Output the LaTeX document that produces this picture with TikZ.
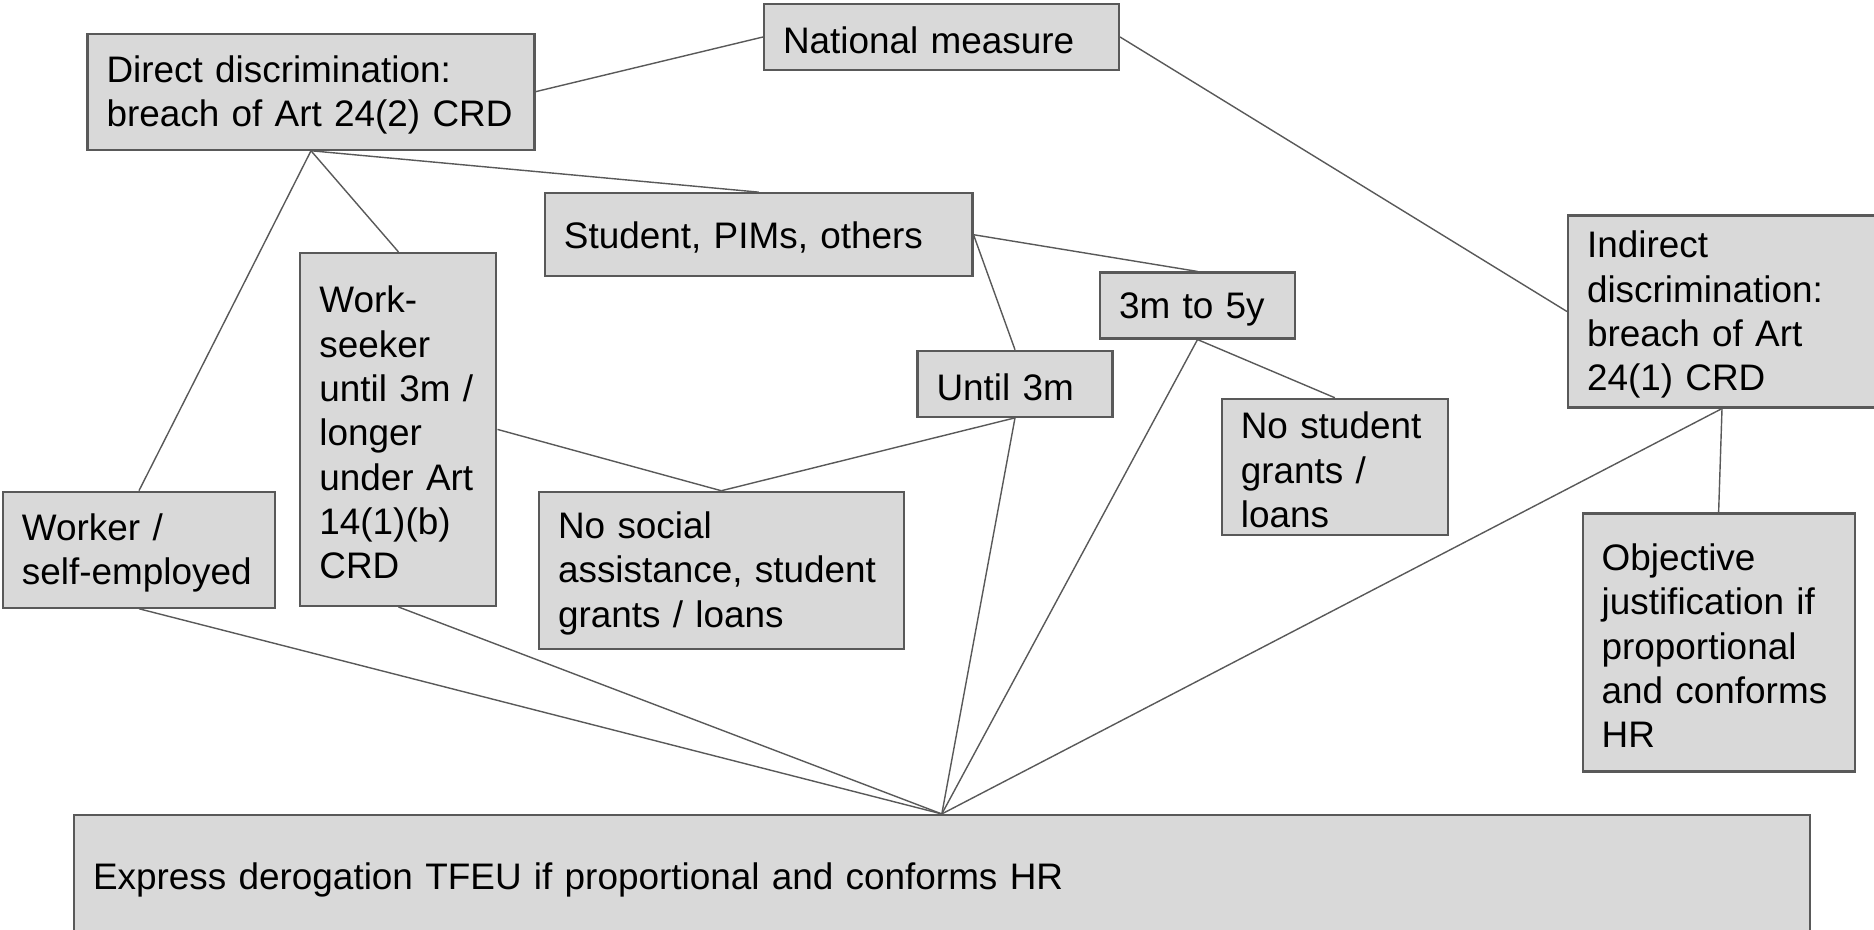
\documentclass[tikz,border=0pt]{standalone}
\usepackage{fontspec}
\setmainfont{Liberation Sans}
\usepackage{xcolor}
\definecolor{boxfill}{RGB}{217, 217, 217}
\definecolor{boxedge}{RGB}{89, 89, 89}
\definecolor{linkgray}{RGB}{89, 89, 89}

\begin{document}
\begin{tikzpicture}[scale=1.0,
  slidebox/.style={draw=boxedge, fill=boxfill, line width=0.6pt, align=left,
    inner xsep=0.19cm, inner ysep=0pt, font=\fontsize{10.5}{12.6}\selectfont,
    execute at begin node={\rule{0pt}{0.33cm}}},
  link/.style={draw=linkgray, line width=0.4pt}]

  \useasboundingbox (0,0) rectangle (18.74,-9.30);

  % Top row
  \node[slidebox, text width=3.17cm, minimum height=0.66cm] (national) at (9.415,-0.37) {National measure};
  \node[slidebox, text width=4.09cm, minimum height=1.16cm] (direct) at (3.11,-0.917) {Direct discrimination:\\breach of Art 24(2) CRD};
  \node[slidebox, text width=2.70cm, minimum height=1.92cm] (indirect) at (17.22,-3.115) {Indirect\\discrimination:\\breach of Art\\24(1) CRD};

  % Beneficiary groups
  \node[slidebox, text width=3.895cm, minimum height=0.83cm] (student) at (7.587,-2.347) {Student, PIMs, others};
  \node[slidebox, text width=1.58cm, minimum height=3.53cm] (seeker) at (3.984,-4.294) {Work-\\seeker\\until 3m /\\longer\\under Art\\14(1)(b)\\CRD};
  \node[slidebox, text width=2.34cm, minimum height=1.16cm] (worker) at (1.39,-5.497) {Worker /\\self-employed};

  % Residence periods
  \node[slidebox, text width=1.57cm, minimum height=0.66cm] (fivey) at (11.975,-3.055) {3m to 5y};
  \node[slidebox, text width=1.57cm, minimum height=0.66cm] (threem) at (10.15,-3.838) {Until 3m};

  % Outcomes
  \node[slidebox, text width=3.265cm, minimum height=1.57cm] (noassist) at (7.213,-5.703) {No social\\assistance, student\\grants / loans};
  \node[slidebox, text width=1.88cm, minimum height=1.36cm] (nogrants) at (13.348,-4.668) {No student\\grants /\\loans};
  \node[slidebox, text width=2.34cm, minimum height=2.58cm] (objective) at (17.186,-6.425) {Objective\\justification if\\proportional\\and conforms\\HR};
  \node[slidebox, text width=16.975cm, minimum height=1.23cm] (express) at (9.418,-8.765) {Express derogation TFEU if proportional and conforms HR};

  % Connectors
  \draw[link] (direct.east) -- (national.west);
  \draw[link] (national.east) -- (indirect.west);
  \draw[link] (direct.south) -- (student.north);
  \draw[link] (direct.south) -- (seeker.north);
  \draw[link] (direct.south) -- (worker.north);
  \draw[link] (student.east) -- (fivey.north);
  \draw[link] (student.east) -- (threem.north);
  \draw[link] (seeker.east) -- (noassist.north);
  \draw[link] (threem.south) -- (noassist.north);
  \draw[link] (fivey.south) -- (nogrants.north);
  \draw[link] (indirect.south) -- (objective.north);

  % Everything runs down to the derogation
  \draw[link] (worker.south) -- (express.north);
  \draw[link] (seeker.south) -- (express.north);
  \draw[link] (threem.south) -- (express.north);
  \draw[link] (fivey.south) -- (express.north);
  \draw[link] (indirect.south) -- (express.north);

\end{tikzpicture}
\end{document}
